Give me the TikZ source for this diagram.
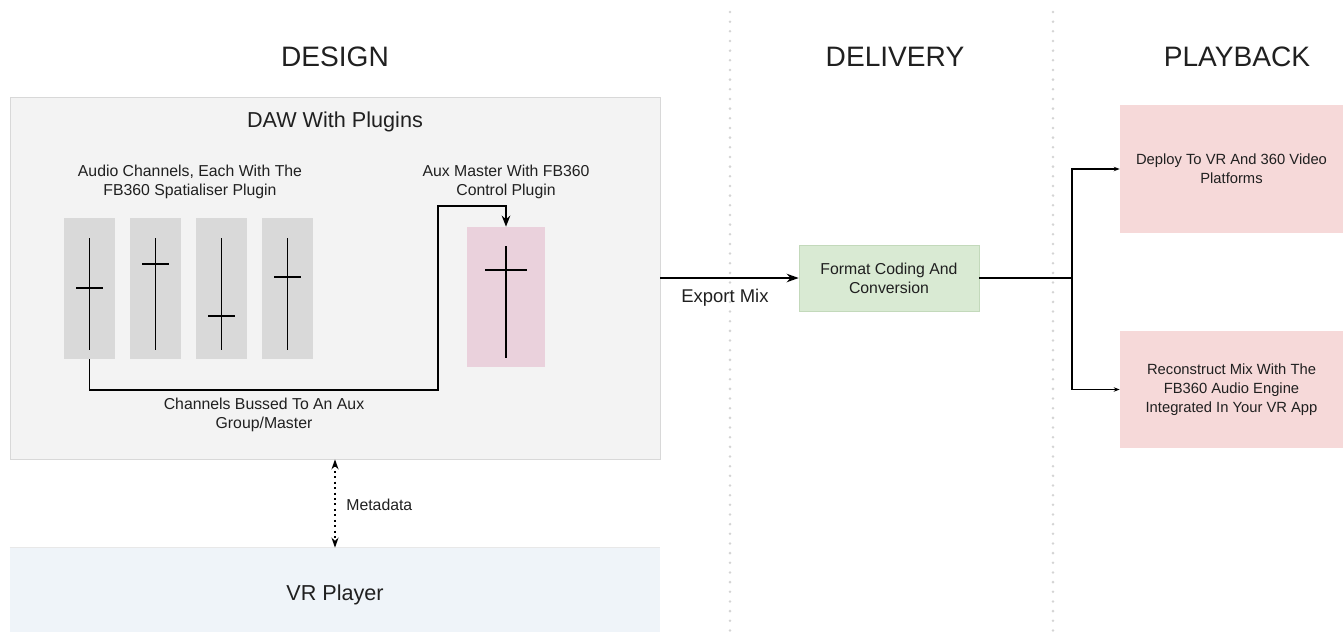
\documentclass[tikz,border=0pt]{standalone}
\usepackage{fontspec}
\setmainfont{Liberation Sans}
\usetikzlibrary{arrows.meta}

\definecolor{dawGray}{HTML}{F3F3F3}
\definecolor{dawLine}{HTML}{D8D8D8}
\definecolor{stripGray}{HTML}{D9D9D9}
\definecolor{auxPink}{HTML}{EAD1DC}
\definecolor{formatGreen}{HTML}{D9EAD3}
\definecolor{formatLine}{HTML}{C3D9BB}
\definecolor{playPink}{HTML}{F6D9D9}
\definecolor{vrBlue}{HTML}{EFF4F9}
\definecolor{textGray}{HTML}{202020}
\definecolor{sepGray}{HTML}{D4D4D4}

\newcommand{\sepDelivery}{730}
\newcommand{\sepPlayback}{1053}
\newcommand{\faderTop}{238}
\newcommand{\faderBottom}{350}

\tikzset{
  header/.style={inner sep=0, text=textGray, font=\fontsize{16}{19}\selectfont},
  title/.style={inner sep=0, text=textGray, font=\fontsize{12.3}{15}\selectfont},
  small/.style={inner sep=0, align=center, text=textGray, font=\fontsize{9}{10.8}\selectfont},
  strip/.style={fill=stripGray, minimum width=1.01cm, minimum height=2.82cm, inner sep=0},
  fader/.style={line width=1.1pt, black},
  playbox/.style={fill=playPink, minimum width=4.46cm, inner sep=0, align=center,
    text=textGray, font=\fontsize{8.4}{10.8}\selectfont},
  separator/.style={sepGray, line width=1.6pt, line cap=round, dash pattern=on 0pt off 5.5pt},
}

\begin{document}
\begin{tikzpicture}[x=0.02cm, y=-0.02cm]
    \useasboundingbox (0,0) rectangle (1343,632);
    \draw[separator] (\sepDelivery,12) -- (\sepDelivery,632);
    \draw[separator] (\sepPlayback,12) -- (\sepPlayback,632);

    \node[header] (design_head) at (335,57) {DESIGN};
    \node[header] (delivery_head) at (895,57) {DELIVERY};
    \node[header] (playback_head) at (1237,57) {PLAYBACK};

    \node[draw=dawLine, fill=dawGray, minimum width=13cm, minimum height=7.24cm, inner sep=0] (daw_box) at (335,278) {};
    \node[title] (daw_title) at (335,122) {DAW With Plugins};
    \node[small] (channels_text) at (190,181.5) {Audio Channels, Each With The\\FB360 Spatialiser Plugin};
    \node[small] (aux_text) at (506,181.5) {Aux Master With FB360\\Control Plugin};

    \foreach \i/\x/\k in {1/89.5/288, 2/155.5/264, 3/221.5/316, 4/287.5/277} {
      \node[strip] (strip\i) at (\x,288.5) {};
      \draw[fader] (\x,\faderTop) -- (\x,\faderBottom);
      \draw[fader] (\x-13.5,\k) -- (\x+13.5,\k);
    }
    \node[strip, fill=auxPink, minimum width=1.56cm, minimum height=2.8cm] (aux_strip) at (506,297) {};
    \draw[fader] (506,246) -- (506,358);
    \draw[fader] (485,270) -- (527,270);

    \coordinate (bus_low) at (438,390);
    \coordinate (bus_high) at (438,206);
    \draw[fader, -{Stealth[length=0.22cm, width=0.17cm]}] (strip1.south) |- (bus_low) -- (bus_high) -| (aux_strip.north);
    \node[small] (bus_text) at (264,414.5) {Channels Bussed To An Aux\\Group/Master};

    \node[draw=formatLine, fill=formatGreen, minimum width=3.6cm, minimum height=1.32cm, inner sep=0, align=center,
      text=textGray, font=\fontsize{9}{10.8}\selectfont] (format_box) at (889,278) {Format Coding And\\Conversion};
    \draw[fader, -{Stealth[length=0.24cm, width=0.17cm]}] (daw_box.east) -- (format_box.west);
    \node[inner sep=0, text=textGray, font=\fontsize{10.5}{12}\selectfont] (export_text) at (725,298) {Export Mix};

    \node[playbox, minimum height=2.56cm] (deploy_box) at (1231.5,169) {Deploy To VR And 360 Video\\Platforms};
    \node[playbox, minimum height=2.34cm] (rebuild_box) at (1231.5,389.5) {Reconstruct Mix With The\\FB360 Audio Engine\\Integrated In Your VR App};
    \coordinate (split) at (1072,278);
    \draw[line width=0.7pt] (format_box.east) -- (split);
    \draw[line width=0.7pt, -{Stealth[length=0.12cm, width=0.09cm]}] (split) |- (deploy_box.west);
    \draw[line width=0.7pt, -{Stealth[length=0.12cm, width=0.09cm]}] (split) |- (rebuild_box.west);

    \node[fill=vrBlue, minimum width=13cm, minimum height=1.88cm, inner sep=0] (vr_box) at (335,595) {};
    \draw[dawLine!60, line width=0.4pt] (vr_box.north west) -- (vr_box.north east);
    \node[title] (vr_title) at (335,595) {VR Player};
    \draw[line width=1.1pt, dotted, {Stealth[length=0.2cm, width=0.14cm]}-{Stealth[length=0.2cm, width=0.14cm]}] (daw_box.south) -- (vr_box.north);
    \node[small, anchor=west] (meta_text) at (346,505) {Metadata};
  \end{tikzpicture}
\end{document}
